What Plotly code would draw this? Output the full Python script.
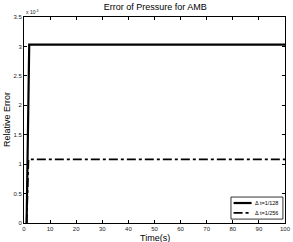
import plotly.graph_objects as go

# data
t_128 = [1, 2, 100]
err_128 = [0.0, 3.03e-3, 3.03e-3]
t_256 = [1, 1.7, 100]
err_256 = [0.0, 1.08e-3, 1.08e-3]
names = ["\u0394 t=1/128", "\u0394 t=1/256"]
x_ticks = [0, 10, 20, 30, 40, 50, 60, 70, 80, 90, 100]
y_ticks = [0, 0.5e-3, 1e-3, 1.5e-3, 2e-3, 2.5e-3, 3e-3, 3.5e-3]
y_tick_text = ["0", "0.5", "1", "1.5", "2", "2.5", "3", "3.5"]

styles = [dict(color="black", width=2.2), dict(color="black", width=1.8, dash="dashdot")]

fig = go.Figure()
fig.add_trace(go.Scatter(x=t_128, y=err_128, mode="lines", name=names[0], line=styles[0]))
fig.add_trace(go.Scatter(x=t_256, y=err_256, mode="lines", name=names[1], line=styles[1]))

font = "Liberation Sans, Arial, sans-serif"
axis_common = dict(showgrid=False, zeroline=False, showline=True, linecolor="black",
                   linewidth=1, mirror="ticks", ticks="inside", ticklen=3,
                   tickcolor="black", ticklabeloverflow="allow", automargin=False,
                   tickfont=dict(size=6, family=font, color="#222"))

fig.update_layout(
    width=293, height=242,
    margin=dict(l=24, r=8, t=17, b=19),
    paper_bgcolor="white", plot_bgcolor="white",
    showlegend=False,
    title=dict(text="Error of Pressure for AMB", x=0.53, xanchor="center",
               y=0.985, yanchor="top", font=dict(size=9, family=font, color="black")),
    xaxis=dict(range=[0, 100], tickvals=x_ticks, **axis_common),
    yaxis=dict(range=[0, 3.5e-3], tickvals=y_ticks, ticktext=y_tick_text, **axis_common),
)
fig.add_annotation(text="Time(s)", xref="paper", yref="paper", x=0.5, y=-0.04,
                   xanchor="center", yanchor="top", showarrow=False,
                   font=dict(size=9, family=font, color="black"))
fig.add_annotation(text="Relative Error", xref="paper", yref="paper", x=-0.065, y=0.5,
                   xanchor="center", yanchor="middle", textangle=-90, showarrow=False,
                   font=dict(size=9, family=font, color="black"))
fig.add_annotation(text="x 10<sup>-3</sup>", xref="paper", yref="paper", x=0.0, y=1.0,
                   xanchor="left", yanchor="bottom", showarrow=False,
                   font=dict(size=5, family=font, color="#222"))

# manual legend box
fig.add_shape(type="rect", xref="paper", yref="paper", x0=0.793, x1=0.992, y0=0.019, y1=0.126,
              line=dict(color="black", width=0.8), fillcolor="white", layer="above")
leg_y = [0.097, 0.049]
for i in range(2):
    fig.add_shape(type="line", xref="paper", yref="paper", x0=0.803, x1=0.872,
                  y0=leg_y[i], y1=leg_y[i], line=styles[i], layer="above")
    fig.add_annotation(text=names[i], xref="paper", yref="paper", x=0.877, y=leg_y[i],
                       xanchor="left", yanchor="middle", showarrow=False,
                       font=dict(size=5.5, family=font, color="black"))

fig.write_html("out.html", config={"displayModeBar": False},
               post_script="document.body.style.margin='0';document.body.style.padding='0';")
